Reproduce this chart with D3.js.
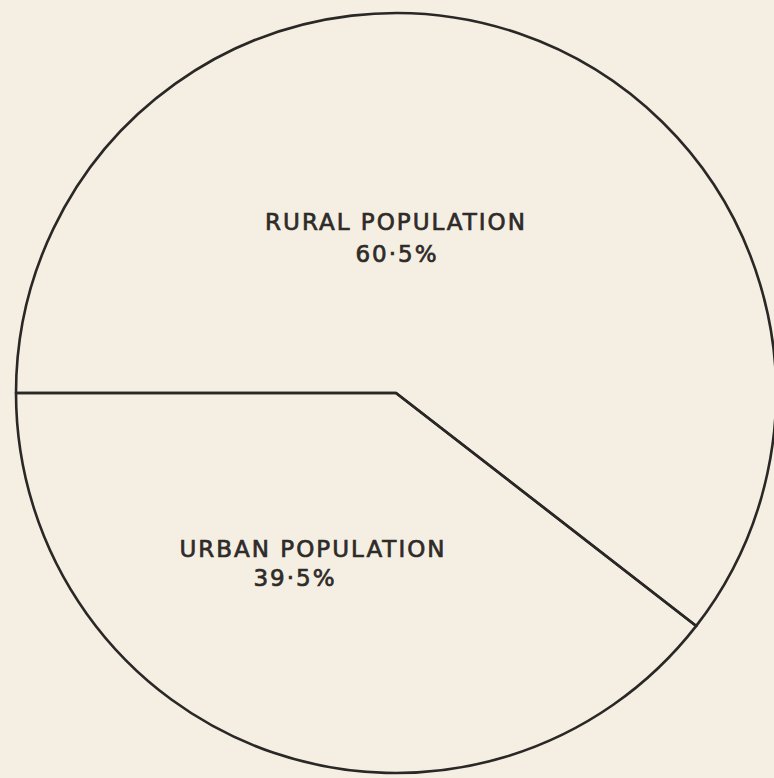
<!DOCTYPE html>
<html>
<head>
<meta charset="utf-8">
<script src="https://cdn.jsdelivr.net/npm/d3@7"></script>
<style>
  html, body { margin: 0; padding: 0; background: #f5efe3; }
  #chart { width: 774px; height: 778px; }
</style>
</head>
<body>
<div id="chart"></div>
<script>
const categories = ["RURAL POPULATION", "URBAN POPULATION"];
const shares = [60.5, 39.5];
const shareLabels = ["60·5%", "39·5%"];

function renderPie(selector = "#chart") {
    const container = d3.select(selector);
    container.html("");

    const width = 774;
    const height = 778;
    const cx = 396, cy = 393, radius = 380;

    const svg = container.append("svg")
        .attr("width", width)
        .attr("height", height)
        .style("display", "block");

    svg.append("rect")
        .attr("width", width)
        .attr("height", height)
        .attr("fill", "#f5efe3");

    // rural starts at 9 o'clock and runs clockwise
    const pie = d3.pie()
        .sort(null)
        .startAngle(-Math.PI / 2)
        .endAngle(3 * Math.PI / 2);

    const arc = d3.arc().innerRadius(0).outerRadius(radius);

    const g = svg.append("g").attr("transform", `translate(${cx},${cy})`);

    g.selectAll("path")
        .data(pie(shares))
        .join("path")
        .attr("d", arc)
        .attr("fill", "none")
        .attr("stroke", "#2a2826")
        .attr("stroke-width", 2.6)
        .attr("stroke-linejoin", "round");

    // label placement (name line + percent line)
    const labelPos = [
        { x: 396, y: 230, px: 397, py: 262 },
        { x: 313, y: 557, px: 295, py: 586 }
    ];

    const labels = svg.append("g")
        .attr("font-family", "'DejaVu Sans', sans-serif")
        .attr("font-size", 23)
        .attr("fill", "#2e2b28")
        .attr("stroke", "#2e2b28")
        .attr("stroke-width", 0.7)
        .attr("text-anchor", "middle")
        .style("letter-spacing", "2px");

    categories.forEach((name, i) => {
        const p = labelPos[i];
        labels.append("text").attr("x", p.x).attr("y", p.y).text(name);
        labels.append("text").attr("x", p.px).attr("y", p.py).text(shareLabels[i]);
    });
}

renderPie();
</script>
</body>
</html>
